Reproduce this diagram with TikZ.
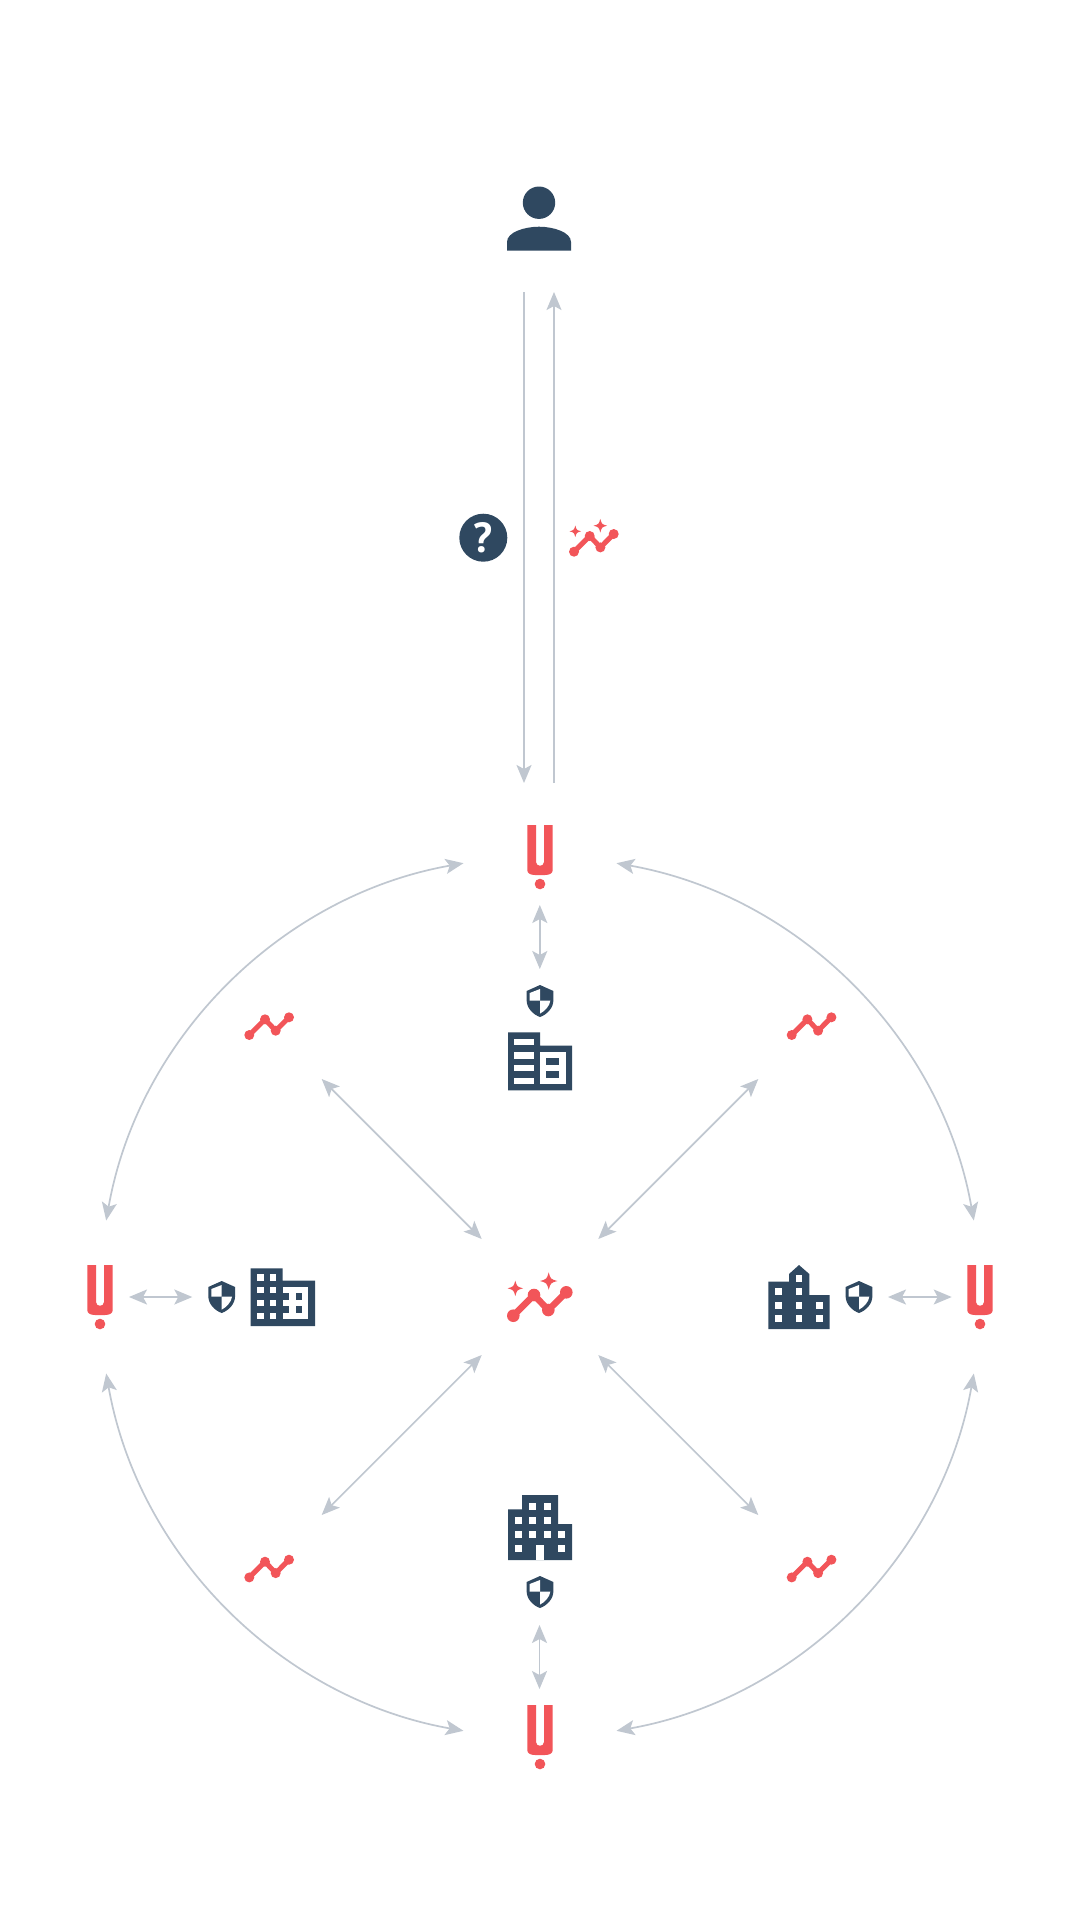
\documentclass[tikz,border=0pt]{standalone}
\usepackage{fontspec}
\setmainfont{Liberation Sans}
\newfontfamily\qfont{PT Sans}
\usetikzlibrary{arrows.meta}
\definecolor{navy}{HTML}{2F4860}
\definecolor{coral}{HTML}{F25559}
\definecolor{link}{HTML}{C0C7D0}
\newcommand{\sparkle}[3]{\fill[coral] (#1,#2-#3) .. controls (#1+.22*#3,#2-.22*#3) .. (#1+#3,#2) .. controls (#1+.22*#3,#2+.22*#3) .. (#1,#2+#3) .. controls (#1-.22*#3,#2+.22*#3) .. (#1-#3,#2) .. controls (#1-.22*#3,#2-.22*#3) .. cycle;}
\tikzset{
  x=1pt,y=-1pt,
  tipmark/.tip={Stealth[length=18pt,width=15pt,inset=4pt]},
  conn/.style={draw=link,line width=1.7pt},
  oneway/.style={conn,-{tipmark}},
  twoway/.style={conn,{tipmark}-{tipmark}},
  pics/uicon/.style={code={
    \fill[coral] (-12.7,0) -- (-12.7,45) .. controls (-12.7,48) and (-10,50) .. (-5,50) -- (5,50) .. controls (10,50) and (12.7,48) .. (12.7,45) -- (12.7,0) -- (4,0) -- (4,37) .. controls (4,42) and (-4,42) .. (-4,37) -- (-4,0) -- cycle;
    \fill[coral] (0,59) circle[radius=5.3];
  }},
  pics/shieldicon/.style={code={
    \fill[navy] (0,0) -- (13.4,6) -- (13.4,15) .. controls (13.4,23) and (7,29.5) .. (0,32) .. controls (-7,29.5) and (-13.4,23) .. (-13.4,15) -- (-13.4,6) -- cycle;
    \fill[white] (0,4) -- (0,15.7) -- (-10.3,15.7) -- (-10.3,8) -- cycle;
    \fill[white] (0,15.7) -- (10.3,15.7) .. controls (9.6,21) and (5,26) .. (0,28.6) -- cycle;
  }},
  pics/trendsmall/.style={code={
    \draw[coral,line width=5pt] (0,0) -- (15.7,-15.7) -- (26.4,-4.3) -- (39.7,-17.7);
    \foreach \p in {(0,0),(15.7,-15.7),(26.4,-4.3),(39.7,-17.7)} \fill[coral] \p circle[radius=5];
  }},
  pics/trendlarge/.style={code={
    \draw[coral,line width=6.5pt] (0,0) -- (20.7,-20.7) -- (35,-5.7) -- (53,-23.4);
    \foreach \p in {(0,0),(20.7,-20.7),(35,-5.7),(53,-23.4)} \fill[coral] \p circle[radius=6.3];
  }},
}
\begin{document}
\begin{tikzpicture}
\useasboundingbox (0,0) rectangle (1080,1920);
\fill[white] (0,0) rectangle (1080,1920);
% connector ends
\coordinate (userL) at (524,292);
\coordinate (hubTL) at (524,783);
\coordinate (userR) at (554,292);
\coordinate (hubTR) at (554,783);
\coordinate (topA) at (539.8,905);
\coordinate (topB) at (539.8,969);
\coordinate (botA) at (539.5,1625);
\coordinate (botB) at (539.5,1689);
\coordinate (leftA) at (129,1297);
\coordinate (leftB) at (192.3,1297);
\coordinate (rightA) at (888,1297);
\coordinate (rightB) at (951.7,1297);
\coordinate (d1a) at (321.7,1079);
\coordinate (d1b) at (481.7,1239);
\coordinate (d2a) at (758.3,1079);
\coordinate (d2b) at (598.3,1239);
\coordinate (d3a) at (321.7,1515);
\coordinate (d3b) at (481.7,1355);
\coordinate (d4a) at (758.3,1515);
\coordinate (d4b) at (598.3,1355);
\coordinate (a1a) at (463.5,863.2);
\coordinate (a1b) at (106.2,1220.5);
\coordinate (a2a) at (616.5,863.2);
\coordinate (a2b) at (973.8,1220.5);
\coordinate (a3a) at (106.2,1373.5);
\coordinate (a3b) at (463.5,1730.8);
\coordinate (a4a) at (973.8,1373.5);
\coordinate (a4b) at (616.5,1730.8);
% connectors
\draw[oneway] (userL) -- (hubTL);
\draw[oneway] (hubTR) -- (userR);
\draw[twoway] (topA) -- (topB);
\draw[twoway] (botA) -- (botB);
\draw[twoway] (leftA) -- (leftB);
\draw[twoway] (rightA) -- (rightB);
\draw[twoway] (d1a) -- (d1b);
\draw[twoway] (d2a) -- (d2b);
\draw[twoway] (d3a) -- (d3b);
\draw[twoway] (d4a) -- (d4b);
\draw[twoway] (a1a) .. controls (281.1,895.4) and (138.4,1038.1) .. (a1b);
\draw[twoway] (a2a) .. controls (798.9,895.4) and (941.6,1038.1) .. (a2b);
\draw[twoway] (a3a) .. controls (138.4,1555.9) and (281.1,1698.6) .. (a3b);
\draw[twoway] (a4a) .. controls (941.6,1555.9) and (798.9,1698.6) .. (a4b);
% person
\fill[navy] (539,202.7) circle[radius=16.2];
\fill[navy] (507,250.7) -- (507,242) .. controls (507,232) and (525,226.7) .. (539,226.7) .. controls (553,226.7) and (571,232) .. (571,242) -- (571,250.7) -- cycle;
% question
\node[circle,fill=navy,minimum size=48pt,inner sep=0pt] (question) at (483.3,537.7) {};
\node[text=white,inner sep=0pt,font=\qfont\bfseries\fontsize{42}{42}\selectfont] (qmark) at (483.3,537.7) {?};
% charts
\pic (insight) at (574,551.7) {trendsmall};
\sparkle{575.3}{531.3}{5.8}
\sparkle{600.3}{525.7}{6.8}
\pic (center) at (513.3,1315.7) {trendlarge};
\sparkle{515.3}{1288.3}{7.7}
\sparkle{548.7}{1281}{8.7}
\pic (chartA) at (249.3,1035) {trendsmall};
\pic (chartB) at (791.7,1035) {trendsmall};
\pic (chartC) at (249.3,1577.4) {trendsmall};
\pic (chartD) at (791.7,1577.4) {trendsmall};
% U marks
\pic (uTop) at (540,825) {uicon};
\pic (uLeft) at (100,1265) {uicon};
\pic (uRight) at (980,1265) {uicon};
\pic (uBot) at (540,1705) {uicon};
% shields
\pic (sTop) at (540,985) {shieldicon};
\pic (sLeft) at (221.7,1281) {shieldicon};
\pic (sRight) at (859,1281) {shieldicon};
\pic (sBot) at (540,1576) {shieldicon};
% top building
\fill[navy] (508,1032.3) -- (540,1032.3) -- (540,1045.7) -- (572,1045.7) -- (572,1090.3) -- (508,1090.3) -- cycle;
\foreach \y in {1039,1052.3,1065,1077.7} \fill[white] (514.3,\y) rectangle (533.7,\y+6.4);
\fill[white] (540,1052.3) rectangle (565.7,1084);
\fill[navy] (546,1058.3) rectangle (559.3,1065);
\fill[navy] (546,1071) rectangle (559.3,1077.7);
% left building
\fill[navy] (250.7,1268.3) -- (282.7,1268.3) -- (282.7,1280.7) -- (315,1280.7) -- (315,1326) -- (250.7,1326) -- cycle;
\foreach \x in {257.3,270} \foreach \y in {1274.3,1287,1300,1312.7} \fill[white] (\x,\y) rectangle (\x+6.4,\y+6.4);
\fill[white] (282.7,1287) rectangle (308.3,1319);
\foreach \y in {1293.3,1306.3} {\fill[navy] (282.7,\y) rectangle (289.3,\y+6.6); \fill[navy] (295.7,\y) rectangle (302,\y+6.6);}
% right building
\fill[navy] (768.3,1281.7) -- (789,1281.7) -- (789,1274) -- (799,1265) -- (809.3,1274) -- (809.3,1295) -- (829.7,1295) -- (829.7,1329) -- (768.3,1329) -- cycle;
\fill[white] (795.7,1275) rectangle +(6.6,6.6);
\foreach \x in {775.3,795.7} \fill[white] (\x,1288.3) rectangle +(6.6,6.6);
\foreach \x in {775.3,795.7,816} \foreach \y in {1302,1315.3} \fill[white] (\x,\y) rectangle +(6.6,6.6);
% bottom building
\fill[navy] (508,1509.3) -- (522,1509.3) -- (522,1495) -- (558,1495) -- (558,1524) -- (572,1524) -- (572,1560) -- (508,1560) -- cycle;
\foreach \x in {529.3,543.7} \fill[white] (\x,1502.7) rectangle +(7,7);
\foreach \x in {515,529.3,543.7} \fill[white] (\x,1516.7) rectangle +(7,7);
\foreach \x in {515,529.3,543.7,558} \fill[white] (\x,1531) rectangle +(7,7);
\foreach \x in {515,558} \fill[white] (\x,1545.3) rectangle +(7,7);
\fill[white] (536.3,1545.3) rectangle (543.7,1560);
\end{tikzpicture}
\end{document}
